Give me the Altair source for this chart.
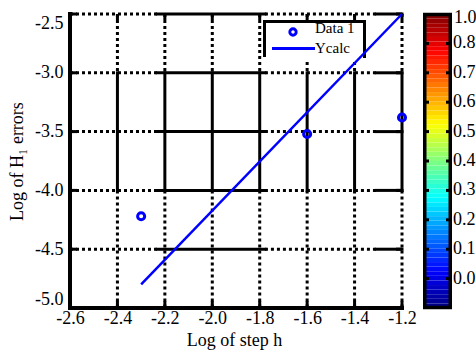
import altair as alt
import pandas as pd

FONT = "Liberation Serif"
BLUE = "#0000ff"

# measured log errors against log step size
step_log = [-2.3, -1.6, -1.2]
err_log = [-4.22, -3.52, -3.38]
# fitted line (Ycalc) end points
fit_x = [-2.3, -1.2]
fit_y = [-4.8, -2.5]
series_names = ["Data 1", "Ycalc"]

x_ticks = [-2.6, -2.4, -2.2, -2.0, -1.8, -1.6, -1.4, -1.2]
y_ticks = [-5.0, -4.5, -4.0, -3.5, -3.0, -2.5]

# colour bar tick labels, top to bottom
cbar_labels = ["1.0", "0.8", "0.7", "0.6", "0.5", "0.4", "0.3", "0.2", "0.1", "0.0"]

W, H = 332, 294
X0, X1 = x_ticks[0], x_ticks[-1]
Y0, Y1 = y_ticks[0], y_ticks[-1]

# grid lines switch between dotted and solid pieces
v_breaks = [(-2.5, -3.0, "dot"), (-3.0, -4.0, "solid"), (-4.0, -5.0, "dot")]
h_breaks = [(-2.6, -2.233, "dot"), (-2.233, -1.778, "solid"),
            (-1.778, -1.309, "dot"), (-1.309, -1.2, "solid")]

seg_rows = []
for xv in x_ticks[1:]:
    for a, b, s in v_breaks:
        seg_rows.append(dict(x=xv, x2=xv, y=a, y2=b, style=s))
for yv in y_ticks[1:]:
    for a, b, s in h_breaks:
        seg_rows.append(dict(x=a, x2=b, y=yv, y2=yv, style=s))
segs = pd.DataFrame(seg_rows)

xs = alt.Scale(domain=[X0, X1], nice=False, zero=False)
ys = alt.Scale(domain=[Y0, Y1], nice=False, zero=False)

num_label = "(datum.value < 0 ? '-' : '') + format(abs(datum.value), '.1f')"

x_axis = alt.Axis(
    values=x_ticks, labelExpr=num_label, labelFont=FONT, labelFontSize=18,
    labelColor="black", labelPadding=1, labelFlush=False, labelOverlap=False,
    ticks=False, tickSize=0, domain=False, grid=False,
    title="Log of step h", titleFont=FONT, titleFontSize=18,
    titleFontWeight="normal", titleColor="black", titleX=164, titleY=37,
    titleBaseline="alphabetic", titleAlign="center",
)
y_axis = alt.Axis(
    values=y_ticks, labelExpr=num_label, labelFont=FONT, labelFontSize=18,
    labelColor="black", labelPadding=7, labelFlush=True, labelOverlap=False,
    ticks=False, tickSize=0, domain=False, grid=False,
    title="Log of H\u2081 errors", titleFont=FONT, titleFontSize=18,
    titleFontWeight="normal", titleColor="black", titleAngle=270,
    titleX=-48, titleY=147, titleBaseline="alphabetic", titleAlign="center",
)


def X(f):
    return alt.X(f, type="quantitative", scale=xs, axis=x_axis)


def Y(f):
    return alt.Y(f, type="quantitative", scale=ys, axis=y_axis)


base_seg = alt.Chart(segs).encode(x=X("x"), x2="x2", y=Y("y"), y2="y2")
grid_dot = base_seg.transform_filter(alt.datum.style == "dot").mark_rule(
    color="black", strokeWidth=3, strokeDash=[3, 3], strokeCap="butt")
grid_solid = base_seg.transform_filter(alt.datum.style == "solid").mark_rule(
    color="black", strokeWidth=3, strokeCap="square")

# left and bottom frame
frame = alt.Chart(pd.DataFrame([
    dict(x=X0, x2=X0, y=Y0, y2=Y1),
    dict(x=X0, x2=X1, y=Y0, y2=Y0),
])).mark_rule(color="black", strokeWidth=4, strokeCap="square").encode(
    x=X("x"), x2="x2", y=Y("y"), y2="y2")

# inward tick marks on all four sides
xt = pd.DataFrame({"x": x_ticks})
yt = pd.DataFrame({"y": y_ticks})
tick_style = dict(color="black", strokeWidth=3)
ticks_b = alt.Chart(xt).mark_rule(**tick_style).encode(
    x=X("x"), y=alt.value(H), y2=alt.value(H - 7))
ticks_t = alt.Chart(xt).mark_rule(**tick_style).encode(
    x=X("x"), y=alt.value(0), y2=alt.value(6))
ticks_l = alt.Chart(yt).mark_rule(**tick_style).encode(
    y=Y("y"), x=alt.value(0), x2=alt.value(7))
ticks_r = alt.Chart(yt).mark_rule(**tick_style).encode(
    y=Y("y"), x=alt.value(W), x2=alt.value(W - 6))

# legend box (open at the bottom)
one = pd.DataFrame({"k": [0]})
leg_bg = alt.Chart(one).mark_rect(fill="white").encode(
    x=alt.value(193), x2=alt.value(295), y=alt.value(6), y2=alt.value(45))
leg_top = alt.Chart(one).mark_rule(color="black", strokeWidth=3).encode(
    x=alt.value(193), x2=alt.value(296), y=alt.value(7.5))
leg_left = alt.Chart(one).mark_rule(color="black", strokeWidth=3).encode(
    x=alt.value(194.5), y=alt.value(6), y2=alt.value(43))
leg_right = alt.Chart(one).mark_rule(color="black", strokeWidth=3).encode(
    x=alt.value(294.5), y=alt.value(6), y2=alt.value(44))
leg_sym = alt.Chart(one).mark_point(
    shape="circle", filled=False, strokeWidth=3, size=40, color=BLUE, opacity=1
).encode(x=alt.value(223), y=alt.value(18))
leg_line = alt.Chart(one).mark_rule(color=BLUE, strokeWidth=3).encode(
    x=alt.value(202), x2=alt.value(245), y=alt.value(34.5))
leg_text = alt.Chart(pd.DataFrame({"name": series_names, "pos": [13.5, 33.5]})).mark_text(
    font=FONT, fontSize=15, align="left", baseline="middle", color="black"
).encode(x=alt.value(245), y=alt.Y("pos:Q", scale=None), text="name:N")

fit = alt.Chart(pd.DataFrame({"x": fit_x, "y": fit_y})).mark_line(
    color=BLUE, strokeWidth=2.5).encode(x=X("x"), y=Y("y"))
pts = alt.Chart(pd.DataFrame({"x": step_log, "y": err_log})).mark_point(
    shape="circle", filled=False, strokeWidth=3, size=50, color=BLUE, opacity=1
).encode(x=X("x"), y=Y("y"))

main = alt.layer(grid_dot, grid_solid, frame, ticks_b, ticks_t, ticks_l, ticks_r,
                 leg_bg, leg_top, leg_left, leg_right, leg_sym, leg_line, leg_text,
                 fit, pts)


# jet colour map for the colour bar
def jet(t):
    def c(v):
        return max(0.0, min(1.0, v))
    r = c(1.5 - abs(4 * t - 3))
    g = c(1.5 - abs(4 * t - 2))
    b = c(1.5 - abs(4 * t - 1))
    return "#%02x%02x%02x" % (round(r * 255), round(g * 255), round(b * 255))


N = 64
bands = pd.DataFrame({
    "lo": [i / N for i in range(N)],
    "hi": [(i + 1) / N for i in range(N)],
    "c": [jet((i + 0.5) / N) for i in range(N)],
})
cs = alt.Scale(domain=[0, 1], nice=False, zero=False)
CB_L, CB_R = 353, 382

cb_bands = alt.Chart(bands).mark_rect().encode(
    x=alt.value(CB_L), x2=alt.value(CB_R),
    y=alt.Y("lo:Q", scale=cs, axis=None), y2="hi:Q",
    color=alt.Color("c:N", scale=None))
cb_border = alt.Chart(one).mark_rect(fill=None, stroke="black", strokeWidth=3.5).encode(
    x=alt.value(CB_L + 1.75), x2=alt.value(CB_R - 1.75),
    y=alt.value(0.5), y2=alt.value(H - 0.5))
cbt = pd.DataFrame({
    "f": [1 - i / 10 for i in range(len(cbar_labels))],
    "lab": cbar_labels,
})
cb_tick_l = alt.Chart(cbt[1:]).mark_rule(color="black", strokeWidth=3).encode(
    y=alt.Y("f:Q", scale=cs, axis=None), x=alt.value(CB_L), x2=alt.value(CB_L + 6))
cb_tick_r = alt.Chart(cbt[1:]).mark_rule(color="black", strokeWidth=3).encode(
    y=alt.Y("f:Q", scale=cs, axis=None), x=alt.value(CB_R - 6), x2=alt.value(CB_R))
cb_lab_top = alt.Chart(cbt[:1]).mark_text(
    font=FONT, fontSize=18, align="left", baseline="middle", color="black", dy=4
).encode(y=alt.Y("f:Q", scale=cs, axis=None), x=alt.value(CB_R + 2), text="lab:N")
cb_lab = alt.Chart(cbt[1:]).mark_text(
    font=FONT, fontSize=18, align="left", baseline="middle", color="black"
).encode(y=alt.Y("f:Q", scale=cs, axis=None), x=alt.value(CB_R + 1), text="lab:N")

cbar = alt.layer(cb_bands, cb_border, cb_tick_l, cb_tick_r, cb_lab_top, cb_lab)

chart = alt.layer(main, cbar).resolve_scale(y="independent").properties(
    width=W, height=H,
    autosize=alt.AutoSizeParams(type="none"),
    padding={"left": 70, "top": 14, "right": 476 - 70 - W, "bottom": 352 - 14 - H},
    background="white",
).configure_view(stroke=None)

chart.save("out.html", embed_options={"renderer": "svg", "actions": False})
